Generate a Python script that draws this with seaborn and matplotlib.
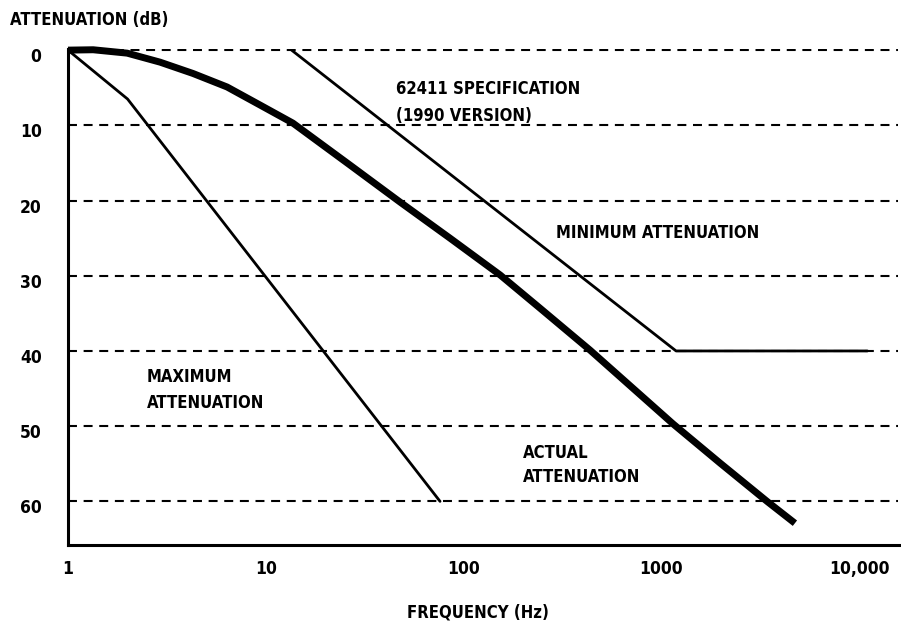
import numpy as np
import pandas as pd
import seaborn as sns
import matplotlib.pyplot as plt
from matplotlib.transforms import ScaledTranslation

# data (Hz, dB)
max_freq = [1, 2.0, 76]
max_atten = [0, 6.5, 60]

spec_freq = [13.5, 1186, 11000]
spec_atten = [0, 40, 40]

actual_freq = [1, 1.34, 1.99, 2.92, 4.28, 6.37, 9.35, 13.7, 26.7, 47.7, 85.3,
               153, 243, 436, 1145, 1978, 3420, 4730]
actual_atten = [0, -0.05, 0.4, 1.6, 3.1, 4.9, 7.3, 9.7, 15.3, 20.2, 25.0,
                29.9, 34.3, 39.9, 49.7, 54.9, 60, 62.9]

x_ticks = [1, 10, 100, 1000, 10000]
x_labels = ["1", "10", "100", "1000", "10,000"]
y_ticks = [0, 10, 20, 30, 40, 50, 60]

sns.set_style("white")
plt.rcParams["font.family"] = ["DejaVu Sans"]
plt.rcParams["font.stretch"] = "condensed"
plt.rcParams["font.weight"] = "bold"
plt.rcParams["text.color"] = "black"

fig = plt.figure(figsize=(9.01, 6.25), dpi=100)
ax = fig.add_axes([68 / 901, 1 - 545 / 625, 1 - 68 / 901, (545 - 49) / 625])

for y in y_ticks:
    ax.axhline(y, color="black", lw=1.5, ls=(0, (4.3, 3.2)), zorder=1, xmax=0.996)

sns.lineplot(x=max_freq, y=max_atten, ax=ax, color="black", lw=2.0, sort=False)
sns.lineplot(x=spec_freq, y=spec_atten, ax=ax, color="black", lw=2.0, sort=False)
sns.lineplot(x=actual_freq, y=actual_atten, ax=ax, color="black", lw=5.0,
             sort=False, clip_on=False, solid_capstyle="butt")

ax.set_xscale("log")
ax.set_xlim(1, 16260)
ax.set_ylim(65.8, -0.15)

ax.set_xticks(x_ticks)
ax.set_xticklabels(x_labels, fontsize=12.5)
ax.xaxis.set_minor_locator(plt.NullLocator())
ax.set_yticks(y_ticks)
ax.set_yticklabels([str(v) for v in y_ticks], fontsize=12.5)

ax.tick_params(axis="x", direction="in", length=18, width=2.2, pad=11, colors="black")
ax.tick_params(axis="y", length=0, pad=19, colors="black")
for lab in ax.get_yticklabels():
    lab.set_transform(lab.get_transform() + ScaledTranslation(0, -5 / 100, fig.dpi_scale_trans))

for side in ["top", "right"]:
    ax.spines[side].set_visible(False)
for side in ["left", "bottom"]:
    ax.spines[side].set_color("black")
    ax.spines[side].set_linewidth(2.2)

txt = dict(fontsize=12, color="black", ha="left", va="center")
ax.text(45.5, 5.2, "62411 SPECIFICATION", **txt)
ax.text(45.5, 8.8, "(1990 VERSION)", **txt)
ax.text(293, 24.3, "MINIMUM ATTENUATION", **txt)
ax.text(2.51, 43.5, "MAXIMUM", **txt)
ax.text(2.51, 46.9, "ATTENUATION", **txt)
ax.text(200, 53.6, "ACTUAL", **txt)
ax.text(200, 56.8, "ATTENUATION", **txt)

fig.text(10 / 901, 1 - 20 / 625, "ATTENUATION (dB)", fontsize=12, ha="left", va="center")
fig.text(478 / 901, 1 - 612 / 625, "FREQUENCY (Hz)", fontsize=12, ha="center", va="center")

fig.savefig("out.png", dpi=100)
